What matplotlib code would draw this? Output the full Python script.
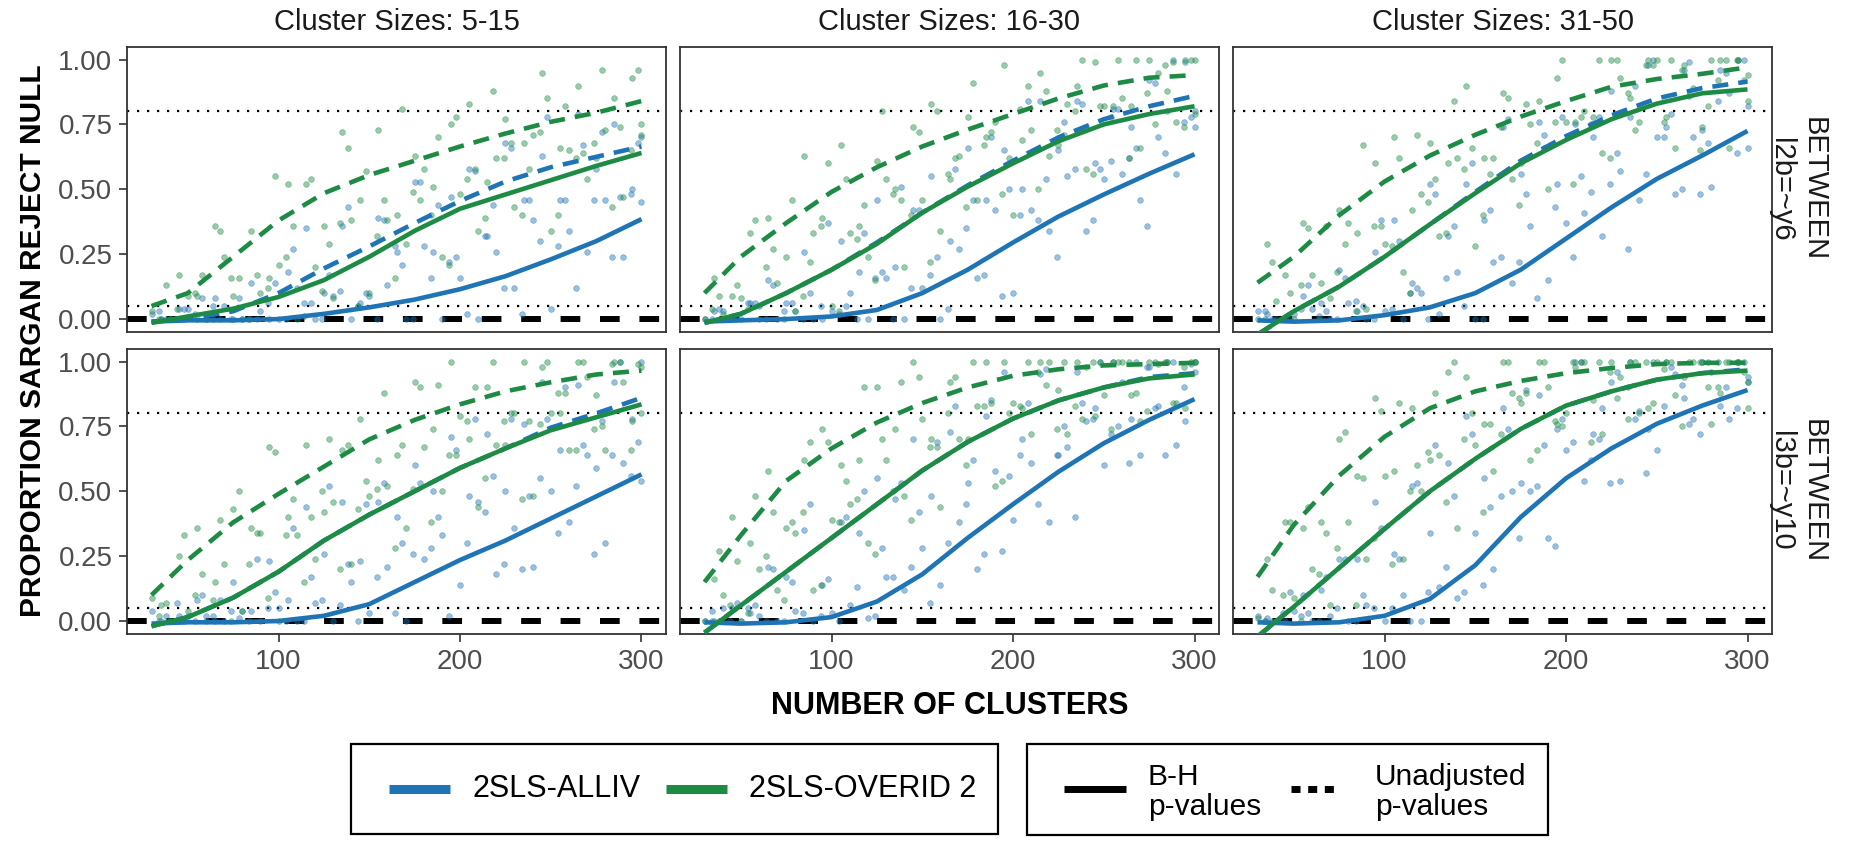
import numpy as np
import matplotlib
matplotlib.use("Agg")
import matplotlib.pyplot as plt
from matplotlib.patches import Rectangle

plt.rcParams['font.family'] = ['Liberation Sans', 'DejaVu Sans']

# ---------------- text ----------------
col_titles = ["Cluster Sizes: 5-15", "Cluster Sizes: 16-30", "Cluster Sizes: 31-50"]
row_labels = ["BETWEEN\nl2b=~y6", "BETWEEN\nl3b=~y10"]
x_label = "NUMBER OF CLUSTERS"
y_label = "PROPORTION SARGAN REJECT NULL"
method_names = ["2SLS-ALLIV", "2SLS-OVERID 2"]
adjust_names = ["B-H\np-values", "Unadjusted\np-values"]

x_ticks = [100, 200, 300]
y_ticks = [0.0, 0.25, 0.5, 0.75, 1.0]
y_tick_labels = ["0.00", "0.25", "0.50", "0.75", "1.00"]
ref_dotted = [0.8, 0.05]
ref_dashed = [0.0]

# ---------------- smoothed curves (percent) ----------------
x_grid = [30, 50, 75, 100, 125, 150, 175, 200, 225, 250, 275, 300]

r1c1_alliv_bh = [-1, -0.5, -0.5, 0, 2, 4.5, 7.5, 11.5, 16.5, 23, 30, 38.5]
r1c1_alliv_un = [-1, 0, 3, 10, 19.5, 28, 37, 45.5, 53, 58.5, 62.5, 66.5]
r1c1_overid_bh = [-1.5, 1, 4, 8.5, 15, 24, 34, 42.5, 48, 53.5, 59, 64]
r1c1_overid_un = [5, 10, 24, 38, 48.5, 55.5, 61, 66.5, 71.5, 76, 79.5, 84]

r1c2_alliv_bh = [-1, -0.5, 0, 1, 3.5, 10, 19, 29.5, 39.5, 48, 56, 63.5]
r1c2_alliv_un = [-1.5, 2, 10, 19, 29.5, 41, 51.5, 61, 70, 77, 82, 86]
r1c2_overid_bh = [-1.5, 2, 10, 19, 29, 41, 51, 60, 68.5, 75, 79, 82]
r1c2_overid_un = [10, 24, 37, 49, 58.5, 66.5, 73, 79, 85, 90, 93, 94]

r1c3_alliv_bh = [-0.5, -1, -0.5, 1.5, 4.5, 10, 19, 31, 43, 54, 63, 72.5]
r1c3_alliv_un = [-6, 3, 12.5, 24, 36.5, 49, 61, 70.5, 78.5, 85, 89, 91.5]
r1c3_overid_bh = [-6, 3, 12.5, 24, 36.5, 48.5, 60, 69, 77, 83, 87, 88.5]
r1c3_overid_un = [14, 24, 40, 53, 63, 71, 78, 84, 89.5, 92.5, 94.5, 97]

r2c1_alliv_bh = [-1, -0.5, -0.5, 0, 2, 6.5, 15, 23.5, 31, 39.5, 48, 56.5]
r2c1_alliv_un = [-2, 1.5, 9, 19, 31, 41, 50, 59, 66.5, 74.5, 80, 86]
r2c1_overid_bh = [-2, 1.5, 9, 19, 31, 41, 50, 59, 66.5, 73.5, 78.5, 83.5]
r2c1_overid_un = [10, 23.5, 38, 49, 59.5, 70, 77.5, 83.5, 88.5, 92, 95, 96.5]

r2c2_alliv_bh = [-0.5, -1, -0.5, 1.5, 7.5, 18, 32, 45, 57.5, 68.5, 77.5, 85.5]
r2c2_alliv_un = [-4.5, 6, 19, 32, 45, 58, 69, 78, 85, 90, 94, 95.5]
r2c2_overid_bh = [-4.5, 6, 19, 32, 45, 58, 69, 78, 85, 90, 93.5, 95]
r2c2_overid_un = [15, 33, 54, 66.5, 76.5, 84, 90, 94.5, 97, 98.5, 99, 99.5]

r2c3_alliv_bh = [-0.5, -1, -0.5, 2, 8.5, 21.5, 40, 55, 66.5, 76, 83, 89]
r2c3_alliv_un = [-6, 5.5, 20.5, 35.5, 50, 62.5, 74, 83, 88.5, 93, 95.5, 97]
r2c3_overid_bh = [-6, 5.5, 20.5, 35.5, 50, 62.5, 74, 83, 88.5, 93, 95.5, 96.5]
r2c3_overid_un = [17, 37, 56, 71, 82, 88.5, 92.5, 95.5, 97.5, 99, 99.5, 99.5]

# ---------------- individual points (percent) ----------------
x_pts_bh = list(range(30, 301, 10))
x_pts_un = list(range(35, 300, 10)) + [300]
x_pts_bh2 = list(range(34, 300, 10))
x_pts_un2 = list(range(38, 300, 10))

r1c1_pts_overid_bh = [3, 0, 9, 0, 24, 0, 10, 21, 0, 20, 8, 38, 10, 38, 29, 58, 24, 48, 34, 62, 43, 71, 34, 65, 54, 73, 47, 71]
r1c1_pts_overid_un = [0, 17, 9, 36, 9, 34, 16, 52, 52, 36, 72, 46, 73, 40, 63, 51, 75, 83, 53, 77, 68, 95, 66, 90, 62, 85, 93, 75]
r1c1_pts_alliv_bh = [2, 0, 4, 0, 5, 0, 3, 0, 12, 0, 9, 0, 9, 13, 0, 28, 0, 16, 0, 26, 12, 38, 4, 34, 26, 46, 24, 45]
r1c1_pts_alliv_un = [0, 4, 0, 8, 0, 14, 0, 18, 35, 10, 36, 6, 39, 26, 53, 26, 47, 58, 32, 68, 46, 63, 46, 79, 58, 75, 50, 70]
r1c1_pts2_overid_bh = [0, 4, 10, 0, 16, 0, 12, 24, 1, 11, 37, 5, 32, 16, 49, 40, 21, 54, 39, 62, 40, 72, 40, 62, 68, 43, 65]
r1c1_pts2_overid_un = [13, 0, 17, 34, 16, 17, 55, 36, 54, 29, 66, 57, 46, 81, 46, 70, 78, 58, 88, 68, 58, 85, 82, 64, 96, 74, 96]
r1c1_pts2_alliv_bh = [3, 0, 2, 5, 0, 0, 6, 0, 6, 0, 11, 5, 0, 28, 0, 16, 22, 2, 32, 12, 2, 30, 28, 12, 46, 24, 48]
r1c1_pts2_alliv_un = [0, 4, 8, 0, 8, 0, 14, 27, 6, 17, 43, 10, 38, 21, 53, 44, 24, 57, 44, 66, 46, 78, 46, 67, 72, 47, 68]

r1c2_pts_overid_bh = [0, 2, 8, 0, 14, 3, 33, 5, 33, 24, 54, 20, 46, 34, 63, 46, 76, 40, 73, 63, 83, 58, 82, 85, 66, 95, 76, 100]
r1c2_pts_overid_un = [16, 9, 33, 39, 24, 63, 39, 67, 36, 61, 50, 74, 83, 54, 78, 70, 98, 69, 95, 67, 90, 99, 82, 82, 100, 88, 100, 79]
r1c2_pts_alliv_bh = [0, 3, 0, 5, 0, 3, 0, 3, 10, 0, 16, 0, 12, 0, 27, 16, 42, 10, 42, 34, 55, 34, 54, 56, 46, 70, 56, 80]
r1c2_pts_alliv_un = [3, 0, 6, 15, 6, 26, 0, 30, 18, 46, 20, 42, 55, 30, 66, 46, 65, 50, 84, 65, 84, 60, 81, 74, 92, 80, 99, 74]
r1c2_pts2_overid_bh = [4, 0, 4, 20, 0, 9, 36, 3, 31, 15, 48, 40, 22, 56, 43, 67, 48, 81, 50, 73, 80, 56, 78, 62, 87, 98, 74]
r1c2_pts2_overid_un = [9, 13, 38, 27, 46, 22, 60, 54, 44, 80, 46, 72, 80, 62, 91, 72, 62, 90, 88, 71, 100, 82, 100, 100, 75, 99, 100]
r1c2_pts2_alliv_bh = [0, 0, 6, 0, 3, 0, 5, 2, 0, 16, 0, 12, 17, 4, 35, 17, 9, 40, 38, 24, 58, 38, 61, 62, 36, 64, 76]
r1c2_pts2_alliv_un = [4, 0, 6, 13, 6, 10, 37, 5, 33, 18, 51, 42, 24, 58, 46, 70, 50, 84, 54, 76, 83, 58, 81, 66, 91, 100, 78]

r1c3_pts_overid_bh = [0, 7, 0, 17, 8, 37, 4, 29, 18, 48, 32, 62, 28, 62, 54, 75, 50, 76, 80, 64, 93, 76, 100, 66, 89, 100, 66, 94]
r1c3_pts_overid_un = [29, 17, 37, 14, 42, 33, 60, 70, 42, 68, 60, 90, 62, 87, 60, 84, 93, 76, 78, 100, 85, 100, 78, 98, 74, 100, 100, 84]
r1c3_pts_alliv_bh = [3, 0, 2, 4, 0, 6, 0, 3, 0, 10, 2, 18, 0, 22, 14, 36, 15, 37, 41, 32, 57, 46, 70, 48, 70, 51, 87, 66]
r1c3_pts_alliv_un = [2, 0, 9, 6, 19, 3, 26, 38, 14, 52, 32, 52, 38, 74, 56, 76, 52, 75, 70, 88, 78, 98, 74, 96, 73, 96, 100, 82]
r1c3_pts2_overid_bh = [0, 0, 13, 0, 18, 3, 36, 28, 10, 45, 33, 58, 40, 74, 44, 68, 76, 52, 75, 62, 87, 98, 76, 96, 65, 92, 100]
r1c3_pts2_overid_un = [22, 10, 35, 36, 29, 67, 36, 62, 71, 54, 84, 66, 56, 85, 83, 66, 100, 78, 100, 100, 73, 98, 100, 86, 82, 100, 92]
r1c3_pts2_alliv_bh = [3, 0, 4, 1, 0, 7, 0, 4, 10, 0, 16, 5, 0, 24, 22, 8, 43, 24, 49, 52, 27, 56, 70, 50, 48, 84, 64]
r1c3_pts2_alliv_un = [0, 0, 13, 3, 16, 5, 38, 30, 12, 48, 36, 60, 42, 77, 48, 71, 78, 55, 78, 64, 90, 100, 79, 99, 68, 95, 100]

r2c1_pts_overid_bh = [9, 0, 4, 0, 22, 4, 34, 0, 33, 24, 46, 22, 48, 52, 36, 67, 50, 79, 44, 68, 80, 48, 80, 66, 94, 66, 92, 80]
r2c1_pts_overid_un = [6, 25, 36, 15, 43, 36, 67, 40, 68, 42, 66, 78, 62, 64, 92, 74, 100, 70, 90, 68, 100, 98, 80, 100, 87, 100, 77, 98]
r2c1_pts_alliv_bh = [4, 0, 2, 2, 0, 4, 0, 5, 0, 7, 0, 15, 3, 21, 0, 24, 33, 14, 46, 18, 36, 21, 50, 38, 64, 30, 61, 54]
r2c1_pts_alliv_un = [0, 2, 8, 0, 15, 4, 23, 8, 44, 26, 46, 23, 46, 40, 60, 50, 71, 48, 72, 50, 76, 92, 66, 91, 59, 92, 78, 100]
r2c1_pts2_overid_bh = [2, 0, 10, 8, 0, 22, 9, 33, 15, 50, 20, 43, 51, 28, 51, 38, 64, 77, 55, 77, 47, 76, 88, 66, 74, 99, 66]
r2c1_pts2_overid_un = [7, 33, 18, 39, 50, 34, 65, 47, 40, 70, 68, 54, 88, 68, 90, 91, 64, 90, 100, 80, 77, 100, 88, 100, 75, 100, 99]
r2c1_pts2_alliv_bh = [0, 7, 0, 2, 4, 0, 5, 0, 0, 8, 6, 0, 17, 3, 26, 28, 2, 30, 42, 22, 20, 55, 34, 52, 26, 64, 56]
r2c1_pts2_alliv_un = [2, 0, 10, 8, 1, 24, 11, 36, 17, 52, 22, 45, 53, 30, 53, 40, 66, 78, 56, 78, 48, 78, 90, 68, 77, 100, 69]

r2c2_pts_overid_bh = [0, 10, 0, 20, 12, 34, 12, 39, 45, 30, 62, 48, 78, 44, 70, 83, 52, 84, 72, 100, 72, 98, 87, 100, 77, 99, 84, 100]
r2c2_pts_overid_un = [16, 40, 30, 58, 36, 62, 74, 60, 62, 90, 74, 100, 70, 92, 70, 100, 100, 82, 100, 89, 100, 79, 100, 87, 100, 100, 82, 100]
r2c2_pts_alliv_bh = [0, 5, 0, 2, 0, 4, 0, 3, 6, 1, 17, 12, 28, 14, 38, 20, 58, 39, 61, 38, 67, 77, 60, 92, 64, 83, 68, 96]
r2c2_pts_alliv_un = [0, 5, 3, 21, 17, 35, 14, 38, 34, 55, 47, 70, 48, 73, 53, 79, 96, 70, 95, 64, 96, 82, 100, 78, 98, 100, 77, 100]
r2c2_pts2_overid_bh = [0, 6, 3, 25, 8, 42, 14, 38, 47, 26, 50, 39, 67, 80, 60, 83, 54, 83, 96, 74, 83, 100, 74, 100, 81, 100, 98]
r2c2_pts2_overid_un = [27, 23, 48, 42, 38, 69, 69, 54, 90, 70, 92, 94, 67, 94, 100, 84, 80, 100, 91, 100, 78, 100, 100, 88, 100, 84, 100]
r2c2_pts2_alliv_bh = [4, 0, 5, 0, 0, 3, 2, 0, 13, 2, 17, 21, 7, 30, 45, 26, 27, 64, 45, 64, 40, 78, 72, 61, 98, 64, 90]
r2c2_pts2_alliv_un = [0, 7, 6, 20, 15, 45, 16, 40, 50, 28, 53, 42, 69, 83, 62, 85, 56, 84, 97, 75, 84, 100, 75, 100, 82, 100, 99]

r2c3_pts_overid_bh = [1, 0, 9, 20, 6, 38, 24, 56, 24, 50, 64, 36, 68, 58, 88, 62, 90, 80, 100, 72, 94, 80, 100, 87, 100, 76, 100, 92]
r2c3_pts_overid_un = [24, 38, 36, 38, 70, 56, 86, 58, 82, 62, 96, 94, 76, 100, 84, 100, 76, 98, 85, 100, 100, 82, 100, 94, 100, 88, 100, 82]
r2c3_pts_alliv_bh = [2, 0, 4, 0, 2, 0, 6, 0, 10, 0, 13, 9, 34, 20, 50, 50, 32, 66, 54, 82, 54, 81, 66, 95, 78, 96, 78, 94]
r2c3_pts_alliv_un = [1, 0, 10, 12, 24, 24, 46, 26, 52, 34, 61, 79, 55, 82, 53, 87, 74, 100, 72, 92, 100, 74, 100, 86, 100, 83, 100, 92]
r2c3_pts2_overid_bh = [0, 10, 0, 18, 28, 6, 32, 22, 50, 65, 46, 70, 42, 72, 86, 66, 77, 100, 69, 96, 78, 100, 97, 75, 100, 90, 100]
r2c3_pts2_overid_un = [12, 38, 44, 34, 73, 55, 81, 84, 60, 88, 100, 80, 76, 100, 88, 100, 75, 100, 100, 86, 100, 84, 100, 100, 90, 100, 96]
r2c3_pts2_alliv_bh = [0, 3, 2, 0, 5, 0, 5, 5, 0, 11, 21, 11, 14, 48, 32, 52, 29, 69, 62, 53, 90, 57, 83, 91, 72, 100, 82]
r2c3_pts2_alliv_un = [0, 11, 3, 17, 24, 10, 36, 24, 53, 68, 48, 72, 44, 74, 89, 68, 78, 100, 70, 96, 78, 100, 98, 76, 100, 90, 100]

# ---------------- assemble ----------------
def panel(cur, p1, p2):
    return dict(curves=cur, pts=p1, pts2=p2)

panels = {
    (0, 0): panel([r1c1_alliv_bh, r1c1_alliv_un, r1c1_overid_bh, r1c1_overid_un],
                  [r1c1_pts_alliv_bh, r1c1_pts_alliv_un, r1c1_pts_overid_bh, r1c1_pts_overid_un],
                  [r1c1_pts2_alliv_bh, r1c1_pts2_alliv_un, r1c1_pts2_overid_bh, r1c1_pts2_overid_un]),
    (0, 1): panel([r1c2_alliv_bh, r1c2_alliv_un, r1c2_overid_bh, r1c2_overid_un],
                  [r1c2_pts_alliv_bh, r1c2_pts_alliv_un, r1c2_pts_overid_bh, r1c2_pts_overid_un],
                  [r1c2_pts2_alliv_bh, r1c2_pts2_alliv_un, r1c2_pts2_overid_bh, r1c2_pts2_overid_un]),
    (0, 2): panel([r1c3_alliv_bh, r1c3_alliv_un, r1c3_overid_bh, r1c3_overid_un],
                  [r1c3_pts_alliv_bh, r1c3_pts_alliv_un, r1c3_pts_overid_bh, r1c3_pts_overid_un],
                  [r1c3_pts2_alliv_bh, r1c3_pts2_alliv_un, r1c3_pts2_overid_bh, r1c3_pts2_overid_un]),
    (1, 0): panel([r2c1_alliv_bh, r2c1_alliv_un, r2c1_overid_bh, r2c1_overid_un],
                  [r2c1_pts_alliv_bh, r2c1_pts_alliv_un, r2c1_pts_overid_bh, r2c1_pts_overid_un],
                  [r2c1_pts2_alliv_bh, r2c1_pts2_alliv_un, r2c1_pts2_overid_bh, r2c1_pts2_overid_un]),
    (1, 1): panel([r2c2_alliv_bh, r2c2_alliv_un, r2c2_overid_bh, r2c2_overid_un],
                  [r2c2_pts_alliv_bh, r2c2_pts_alliv_un, r2c2_pts_overid_bh, r2c2_pts_overid_un],
                  [r2c2_pts2_alliv_bh, r2c2_pts2_alliv_un, r2c2_pts2_overid_bh, r2c2_pts2_overid_un]),
    (1, 2): panel([r2c3_alliv_bh, r2c3_alliv_un, r2c3_overid_bh, r2c3_overid_un],
                  [r2c3_pts_alliv_bh, r2c3_pts_alliv_un, r2c3_pts_overid_bh, r2c3_pts_overid_un],
                  [r2c3_pts2_alliv_bh, r2c3_pts2_alliv_un, r2c3_pts2_overid_bh, r2c3_pts2_overid_un]),
}

BLUE = "#1f74b5"
GREEN = "#1e8b45"
series_colors = [BLUE, BLUE, GREEN, GREEN]
series_dashed = [False, True, False, True]
series_xpts = [x_pts_bh, x_pts_un, x_pts_bh, x_pts_un]
series_xpts2 = [x_pts_bh2, x_pts_un2, x_pts_bh2, x_pts_un2]
DASH = (0, (3.5, 2.2))

W, H = 1875, 847
fig = plt.figure(figsize=(W / 100, H / 100), dpi=100)

panel_left_px = [127, 680, 1233]
panel_w_px = 539
row_bottom = [0.608, 0.2515]
row_h = 0.337

for r in range(2):
    for c in range(3):
        ax = fig.add_axes([panel_left_px[c] / W, row_bottom[r], panel_w_px / W, row_h])
        p = panels[(r, c)]
        for yv in ref_dotted:
            ax.axhline(yv, color="black", lw=1.6, ls=(0, (1, 3.5)), zorder=1)
        for yv in ref_dashed:
            ax.axhline(yv, color="black", lw=4.3, ls=(0, (3.3, 3.3)), zorder=1)
        for k in range(4):
            for xs, ys in ((series_xpts[k], p["pts"][k]), (series_xpts2[k], p["pts2"][k])):
                n = min(len(xs), len(ys))
                yp = np.array(ys[:n], dtype=float) / 100.0
                ax.scatter(xs[:n], yp, s=17, color=series_colors[k], alpha=0.45,
                           linewidths=0.5, edgecolors=series_colors[k], zorder=2)
        for k in range(4):
            yc = np.array(p["curves"][k], dtype=float) / 100.0
            ax.plot(x_grid, yc, color=series_colors[k], lw=3.3,
                    ls=DASH if series_dashed[k] else "-",
                    solid_capstyle="butt", dash_capstyle="butt",
                    solid_joinstyle="round", zorder=3)
        ax.set_xlim(16.5, 313.5)
        ax.set_ylim(-0.05, 1.05)
        for sp in ax.spines.values():
            sp.set_color("#333333")
            sp.set_linewidth(1.3)
        ax.tick_params(axis="both", length=5.5, width=1.2, color="#333333",
                       labelsize=20, labelcolor="#4D4D4D", pad=5)
        if r == 1:
            ax.set_xticks(x_ticks)
            ax.set_xticklabels([str(t) for t in x_ticks])
        else:
            ax.set_xticks([])
        if c == 0:
            ax.set_yticks(y_ticks)
            ax.set_yticklabels(y_tick_labels)
        else:
            ax.set_yticks([])

# overlay in pixel coordinates for titles, labels and legends
ov = fig.add_axes([0, 0, 1, 1], zorder=10)
ov.set_xlim(0, W)
ov.set_ylim(H, 0)
ov.axis("off")
ov.patch.set_alpha(0)

for c in range(3):
    cx = panel_left_px[c] + panel_w_px / 2
    ov.text(cx, 22, col_titles[c], ha="center", va="center", fontsize=21, color="#1A1A1A")

row_centers_px = [(47 + 332) / 2, (348 + 634) / 2]
for r in range(2):
    ov.text(1797, row_centers_px[r], row_labels[r], rotation=270, ha="center", va="center",
            fontsize=21, color="#1A1A1A", linespacing=1.2, multialignment="center")

ov.text(33, (47 + 634) / 2, y_label, rotation=90, ha="center", va="center",
        fontsize=21.5, fontweight="bold", color="black")
ov.text((127 + 1772) / 2, 706, x_label, ha="center", va="center",
        fontsize=22, fontweight="bold", color="black")

# legend 1 (methods)
ov.add_patch(Rectangle((351, 744), 647, 90, fill=False, lw=1.6, ec="black"))
leg_y = 789
for (x0, x1, tx), col, name in zip([(389, 450, 472), (666, 727, 749)], [BLUE, GREEN], method_names):
    ov.plot([x0, x1], [leg_y, leg_y], color=col, lw=6.5, solid_capstyle="butt")
    ov.plot([(x0 + x1) / 2], [leg_y], "o", color=col, ms=3, alpha=0.6)
    ov.text(tx, leg_y, name, ha="left", va="center", fontsize=22, color="black")

# legend 2 (adjustment)
ov.add_patch(Rectangle((1027, 744), 521, 91, fill=False, lw=1.6, ec="black"))
ov.plot([1064, 1126], [leg_y, leg_y], color="black", lw=5, solid_capstyle="butt")
ov.text(1148, leg_y + 3, adjust_names[0], ha="left", va="center", fontsize=21.5,
        color="black", linespacing=1.05)
ov.plot([1291, 1337], [leg_y, leg_y], color="black", lw=5, ls=(0, (1.3, 1.1)),
        dash_capstyle="butt")
ov.text(1375, leg_y + 3, adjust_names[1], ha="left", va="center", fontsize=21.5,
        color="black", linespacing=1.05)

fig.savefig("out.png", dpi=100)
